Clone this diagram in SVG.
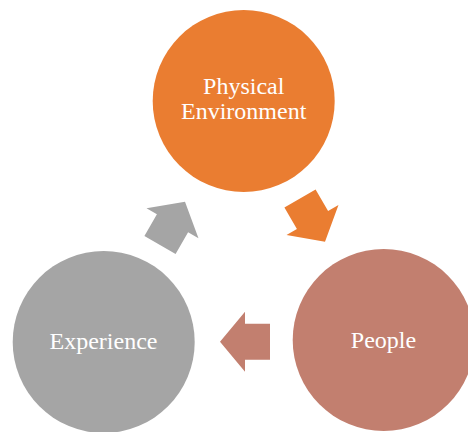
<svg xmlns="http://www.w3.org/2000/svg" xmlns:xlink="http://www.w3.org/1999/xlink" width="468" height="432" viewBox="0 0 468 432">
  <style>
    .lbl { font-family: "Liberation Serif", "Times New Roman", serif; font-size: 24px; fill: #ffffff; text-anchor: middle; }
  </style>
  <defs>
    <path id="arrow" d="M0,-18 L25,-18 L25,-30 L50,0 L25,30 L25,18 L0,18 Z"/>
  </defs>
  <rect width="468" height="432" fill="#ffffff"/>
  <g id="node-physical">
    <circle cx="243.7" cy="101" r="91" fill="#EA7D31"/>
    <text class="lbl" x="243.7" y="94">Physical</text>
    <text class="lbl" x="243.7" y="119">Environment</text>
  </g>
  <g id="node-people">
    <circle cx="383.7" cy="340" r="91" fill="#C27F6F"/>
    <text class="lbl" x="383.5" y="348">People</text>
  </g>
  <g id="node-experience">
    <circle cx="103.7" cy="342" r="91" fill="#A5A5A5"/>
    <text class="lbl" x="103.5" y="349">Experience</text>
  </g>
  <g id="connectors">
    <use xlink:href="#arrow" fill="#EA7D31" transform="translate(300,198.4) rotate(60)"/>
    <use xlink:href="#arrow" fill="#C27F6F" transform="translate(270,341.7) rotate(180)"/>
    <use xlink:href="#arrow" fill="#A5A5A5" transform="translate(160,245) rotate(-60)"/>
  </g>
</svg>
